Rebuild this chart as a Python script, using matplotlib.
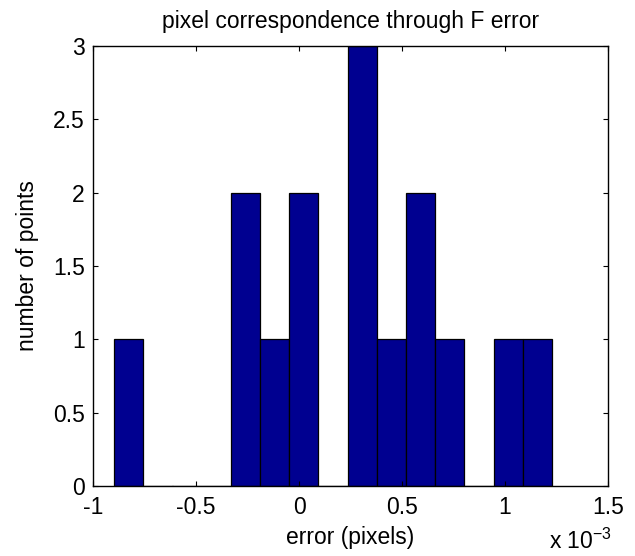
import matplotlib
matplotlib.use('Agg')
import matplotlib.pyplot as plt

# histogram of the F-error per pixel correspondence (x in units of 1e-3 px)
bin_centers = [-0.827, -0.685, -0.544, -0.402, -0.260, -0.118, 0.023, 0.165,
               0.307, 0.449, 0.590, 0.732, 0.874, 1.015, 1.157]
counts = [1, 0, 0, 0, 2, 1, 2, 0, 3, 1, 2, 1, 0, 1, 1]
bin_width = 0.1417

x_ticks = [-1, -0.5, 0, 0.5, 1, 1.5]
x_ticklabels = ['-1', '-0.5', '0', '0.5', '1', '1.5']
y_ticks = [0, 0.5, 1, 1.5, 2, 2.5, 3]
y_ticklabels = ['0', '0.5', '1', '1.5', '2', '2.5', '3']

plt.rcParams['font.family'] = ['Liberation Sans', 'DejaVu Sans']
fs = 16.5

fig = plt.figure(figsize=(6.35, 5.56), dpi=100)
ax = fig.add_axes([0.1465, 0.1259, 0.8110, 0.7914])

ax.bar(bin_centers, counts, width=bin_width, color='#000090',
       edgecolor='black', linewidth=0.9)

ax.set_xlim(-1, 1.5)
ax.set_ylim(0, 3)
ax.set_xticks(x_ticks)
ax.set_xticklabels(x_ticklabels)
ax.set_yticks(y_ticks)
ax.set_yticklabels(y_ticklabels)
ax.tick_params(direction='in', top=True, right=True, length=3.5, width=0.8,
               labelsize=fs)
ax.tick_params(axis='x', pad=7)
ax.tick_params(axis='y', pad=6)
for s in ax.spines.values():
    s.set_linewidth(1.0)

ax.set_title('pixel correspondence through F error', fontsize=fs, pad=13)
ax.set_xlabel('error (pixels)', fontsize=fs, labelpad=5)
ax.set_ylabel('number of points', fontsize=fs, labelpad=10)

fig.text(0.963, 0.004, r'x 10$^{\mathregular{-3}}$', ha='right', va='bottom',
         fontsize=fs)

fig.savefig('out.png', dpi=100)
